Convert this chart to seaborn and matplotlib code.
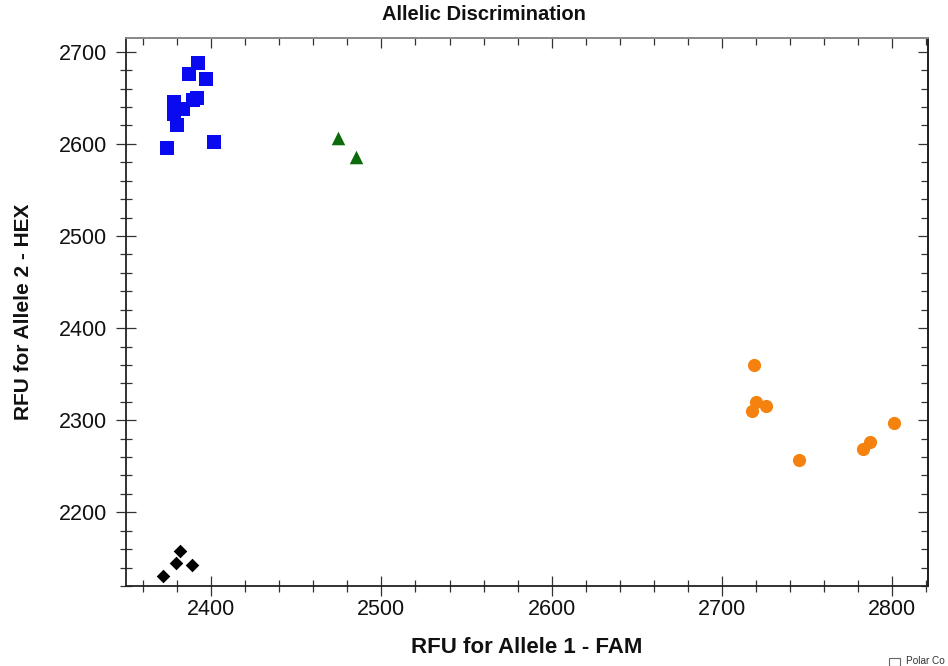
import matplotlib
matplotlib.use("Agg")
import matplotlib.pyplot as plt
import seaborn as sns
import pandas as pd
from matplotlib.patches import Rectangle
from matplotlib.ticker import MultipleLocator

# ---- data ----
allele2_fam = [2392.4, 2387.1, 2397.1, 2391.8, 2389.4, 2378.3, 2383.6, 2378.3, 2380.0, 2374.2, 2401.8]
allele2_hex = [2688, 2676, 2671, 2650, 2648, 2646, 2638, 2632, 2621, 2596, 2602]

hetero_fam = [2474.3, 2484.9]
hetero_hex = [2606, 2585.5]

ntc_fam = [2372.0, 2379.1, 2381.6, 2388.9]
ntc_hex = [2130.8, 2145.3, 2158.4, 2143.2]

allele1_fam = [2718.6, 2720.2, 2726.1, 2717.9, 2745.4, 2782.9, 2786.9, 2801.2]
allele1_hex = [2359.5, 2319.6, 2314.9, 2310.5, 2256.5, 2268.5, 2276.1, 2297.1]

groups = ["Allele 2", "Heterozygote", "NTC", "Allele 1"]
group_fam = [allele2_fam, hetero_fam, ntc_fam, allele1_fam]
group_hex = [allele2_hex, hetero_hex, ntc_hex, allele1_hex]
colors = ["#0a0af0", "#0b6b0b", "#000000", "#f5820f"]
markers = ["s", "^", "D", "o"]
sizes = [100, 95, 48, 90]

title = "Allelic Discrimination"
xlabel = "RFU for Allele 1 - FAM"
ylabel = "RFU for Allele 2 - HEX"
corner_text = "Polar Co"

sns.set_style("white")
plt.rcParams["font.family"] = ["Liberation Sans", "DejaVu Sans"]

fig = plt.figure(figsize=(9.48, 6.66), dpi=100)
ax = fig.add_axes([126 / 948, 1 - 586 / 666, (928 - 126) / 948, (586 - 38) / 666])

for g, fx, hy, c, m, s in zip(groups, group_fam, group_hex, colors, markers, sizes):
    df = pd.DataFrame({"FAM": fx, "HEX": hy})
    sns.scatterplot(data=df, x="FAM", y="HEX", color=c, marker=m, s=s,
                    linewidth=0, ax=ax, legend=False, zorder=3)

ax.set_xlim(2350, 2821)
ax.set_ylim(2120, 2715)
ax.xaxis.set_major_locator(MultipleLocator(100))
ax.xaxis.set_minor_locator(MultipleLocator(20))
ax.yaxis.set_major_locator(MultipleLocator(100))
ax.yaxis.set_minor_locator(MultipleLocator(20))

tick_col = "#333333"
ax.tick_params(which="both", bottom=True, left=True, top=False, right=False)
ax.tick_params(which="major", direction="inout", length=15, width=0.9, color=tick_col,
               labelsize=15.5, labelcolor="#111111")
ax.tick_params(which="minor", direction="inout", length=9, width=0.9, color=tick_col)
ax.tick_params(axis="y", which="major", pad=6)
ax.tick_params(axis="x", which="major", pad=2)

for sp in ["left", "bottom", "right"]:
    ax.spines[sp].set_color("#222222")
    ax.spines[sp].set_linewidth(1.3)
ax.spines["top"].set_color("#8a8a8a")
ax.spines["top"].set_linewidth(1.3)

# inward ticks on top and right
secx = ax.secondary_xaxis("top")
secx.xaxis.set_major_locator(MultipleLocator(100))
secx.xaxis.set_minor_locator(MultipleLocator(20))
secx.tick_params(which="both", top=True, labeltop=False)
secx.tick_params(which="major", direction="in", length=7, width=0.9, color=tick_col)
secx.tick_params(which="minor", direction="in", length=5, width=0.9, color=tick_col)
secx.spines["top"].set_color("#8a8a8a")
secx.spines["top"].set_linewidth(1.3)

secy = ax.secondary_yaxis("right")
secy.yaxis.set_major_locator(MultipleLocator(100))
secy.yaxis.set_minor_locator(MultipleLocator(20))
secy.tick_params(which="both", right=True, labelright=False)
secy.tick_params(which="major", direction="in", length=7, width=0.9, color=tick_col)
secy.tick_params(which="minor", direction="in", length=5, width=0.9, color=tick_col)
secy.spines["right"].set_color("#222222")
secy.spines["right"].set_linewidth(1.3)

ax.set_xlabel(xlabel, fontsize=16, fontweight="bold", labelpad=12, color="#111111")
ax.set_ylabel(ylabel, fontsize=15, fontweight="bold", labelpad=19, color="#111111")

fig.text(484 / 948, 1 - 15 / 666, title, ha="center", va="center",
         fontsize=14.5, fontweight="bold", color="#111111")

# checkbox in the bottom-right corner
fig.patches.append(Rectangle((889 / 948, 0.0), 11 / 948, 8.5 / 666,
                             transform=fig.transFigure, fill=False,
                             edgecolor="#666666", linewidth=0.8))
fig.text(906 / 948, 0.5 / 666, corner_text, ha="left", va="bottom",
         fontsize=7.2, color="#333333")

fig.savefig("out.png", dpi=100)
